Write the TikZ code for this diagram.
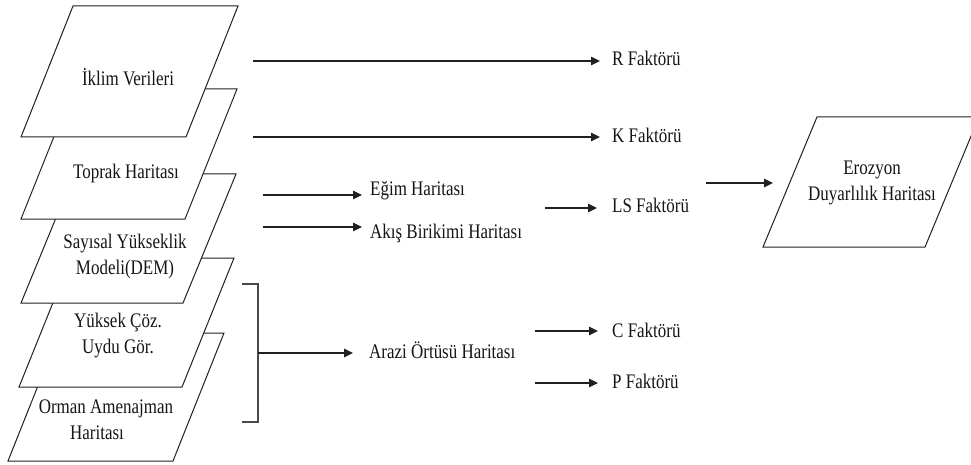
\documentclass[tikz,border=0pt]{standalone}
\usepackage{fontspec}
\setmainfont{Liberation Serif}[FakeStretch=0.82]
\usetikzlibrary{arrows.meta}
\definecolor{ink}{HTML}{151515}
\definecolor{edge}{HTML}{202020}
\definecolor{brk}{HTML}{4A4A4A}
\begin{document}
\begin{tikzpicture}[x=1pt,y=-1pt,
  every node/.style={font=\fontsize{20.7}{26}\selectfont, text=ink},
  layer/.style={draw=edge, fill=white, line width=1pt, line join=miter},
  arr/.style={draw=edge, line width=1.2pt, -{Triangle[length=9pt,width=8.5pt]}},
  lbl/.style={inner sep=0pt, anchor=base west},
  boxtext/.style={align=center, inner sep=0pt},
  bracket/.style={draw=brk, line width=1.4pt}]
\useasboundingbox (0,0) rectangle (971,465);
\clip (0,0) rectangle (971,465);
\fill[white] (0,0) rectangle (971,465);

% stacked input layers, lowest first so the upper ones overlap it
\draw[layer] (8,461) -- (173,461) -- (224,333) -- (59,333) -- cycle;
\draw[layer] (19,387) -- (182,387) -- (234,258) -- (71,258) -- cycle;
\draw[layer] (21,303) -- (183,303) -- (236,174) -- (74,174) -- cycle;
\draw[layer] (21,219) -- (185,219) -- (237,89) -- (73,89) -- cycle;
\draw[layer] (21,137) -- (186,137) -- (238,6) -- (73,6) -- cycle;

\node[boxtext] (iklim) at (128,77) {İklim Verileri};
\node[boxtext] (toprak) at (126,174) {Toprak Haritası};
\node[boxtext] (dem) at (125,257) {Sayısal Yükseklik\\Modeli(DEM)};
\node[boxtext] (uydu) at (118,336) {Yüksek Çöz.\\Uydu Gör.};
\node[boxtext] (orman) at (106,420) {Orman Amenajman\\Haritası\hspace*{18pt}};

% intermediate and factor labels
\node[lbl] (R) at (612,66) {R Faktörü};
\node[lbl] (K) at (612,143) {K Faktörü};
\node[lbl] (egim) at (370,196) {Eğim Haritası};
\node[lbl] (akis) at (370,238) {Akış Birikimi Haritası};
\node[lbl] (LS) at (612,212) {LS Faktörü};
\node[lbl] (arazi) at (369,358) {Arazi Örtüsü Haritası};
\node[lbl] (C) at (612,337) {C Faktörü};
\node[lbl] (P) at (612,388) {P Faktörü};

% output map
\draw[layer] (763,247) -- (925,247) -- (979,117) -- (817,117) -- cycle;
\coordinate (ezL) at (790,182);
\node[boxtext] (ez) at (872,183) {Erozyon\\Duyarlılık Haritası};

% arrow tails
\coordinate (rS) at (253,61);
\coordinate (kS) at (253,137);
\coordinate (eS) at (263,195);
\coordinate (aS) at (263,227);
\coordinate (lsS) at (545,208);
\coordinate (cS) at (535,331);
\coordinate (pS) at (535,383);
\coordinate (ezS) at (706,183);

\draw[arr, shorten >=12pt] (rS) -- (rS -| R.west);
\draw[arr, shorten >=12pt] (kS) -- (kS -| K.west);
\draw[arr, shorten >=8pt] (eS) -- (eS -| egim.west);
\draw[arr, shorten >=8pt] (aS) -- (aS -| akis.west);
\draw[arr, shorten >=15pt] (lsS) -- (lsS -| LS.west);
\draw[arr, shorten >=14pt] (cS) -- (cS -| C.west);
\draw[arr, shorten >=14pt] (pS) -- (pS -| P.west);
\draw[arr, shorten >=17pt] (ezS) -- (ezS -| ezL);

% bracket gathering the land-cover inputs
\coordinate (bT) at (242,284);
\coordinate (bB) at (242,422);
\coordinate (bM) at (258,353);
\draw[bracket] (bT) -- ++(16,0) |- (bB);
\draw[arr, shorten >=16pt] (bM) -- (bM -| arazi.west);
\end{tikzpicture}
\end{document}
